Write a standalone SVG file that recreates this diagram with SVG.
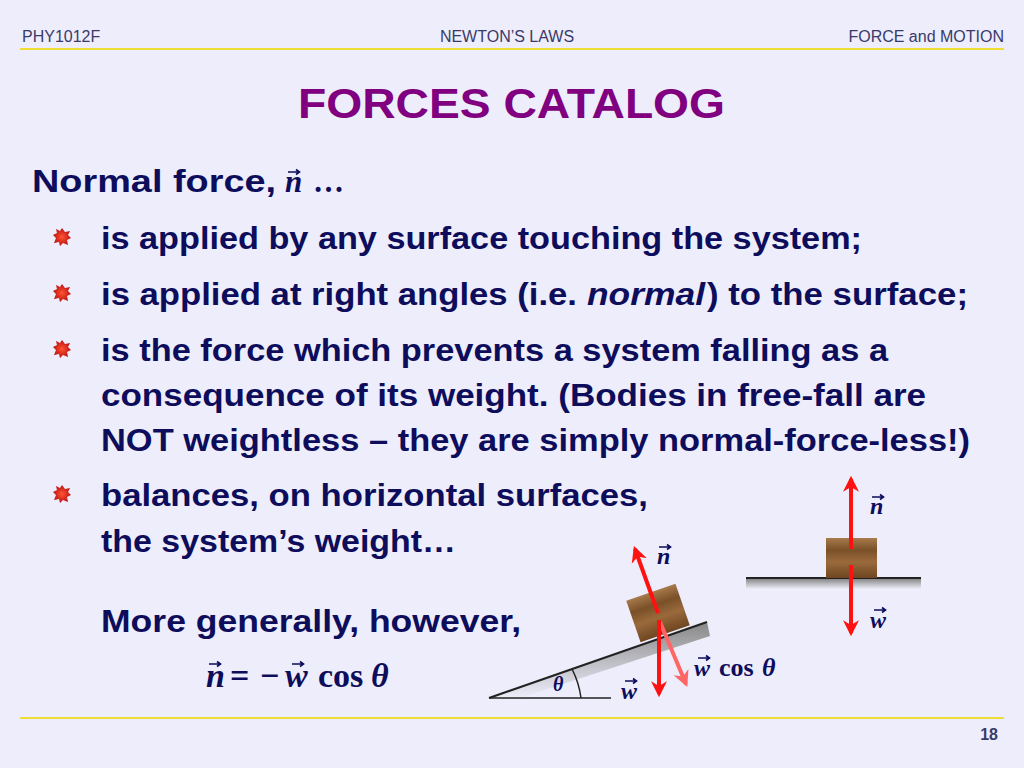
<svg xmlns="http://www.w3.org/2000/svg" width="1024" height="768" viewBox="0 0 1024 768">
<defs>
<style>
.hd{font-family:"Liberation Sans",Arial,sans-serif;font-size:16px;fill:#3a3a6a}
.b{font-family:"Liberation Sans",Arial,sans-serif;font-weight:bold;font-size:32px;fill:#0d0d5c}
.v{font-family:"Liberation Serif","Times New Roman",serif;font-weight:bold;font-style:italic;fill:#0d0d5c}
.r{font-family:"Liberation Serif","Times New Roman",serif;font-weight:bold;fill:#0d0d5c}
.ar{stroke:#ff1111;stroke-width:4;fill:none}
</style>
<marker id="ah" viewBox="0 0 10 10" refX="8" refY="5" markerWidth="4" markerHeight="5" orient="auto" markerUnits="strokeWidth"><path d="M0,0 L10,5 L0,10 L3,5z" fill="#ff1111"/></marker>
<marker id="ahp" viewBox="0 0 10 10" refX="8" refY="5" markerWidth="4" markerHeight="5" orient="auto" markerUnits="strokeWidth"><path d="M0,0 L10,5 L0,10 L3,5z" fill="#ff6666"/></marker>
<radialGradient id="bul"><stop offset="0" stop-color="#ff5533"/><stop offset="1" stop-color="#bb1111"/></radialGradient>
<linearGradient id="wood" x1="0" y1="0" x2="0" y2="1"><stop offset="0" stop-color="#a87a4c"/><stop offset="0.3" stop-color="#7a5028"/><stop offset="0.6" stop-color="#9a6a3c"/><stop offset="1" stop-color="#6e4620"/></linearGradient>
<linearGradient id="shd" x1="0" y1="0" x2="0" y2="1"><stop offset="0" stop-color="#888"/><stop offset="1" stop-color="#eeeefb"/></linearGradient>
<g id="bullet"><path d="M0,-9 L3,-5 L8,-6 L6,-2 L9,1 L5,3 L6,8 L1,6 L-2,9 L-3,5 L-8,6 L-6,1 L-9,-2 L-5,-4 L-6,-8 L-2,-6z" fill="url(#bul)"/></g>
<g id="vec"><path d="M0,0 H11 M8,-2.5 L11.5,0 L8,2.5" stroke="#0d0d5c" stroke-width="1.6" fill="none"/></g>
</defs>
<rect width="1024" height="768" fill="#ededfb"/>
<g id="header">
<text class="hd" x="22" y="42">PHY1012F</text>
<text class="hd" x="507" y="42" text-anchor="middle">NEWTON’S LAWS</text>
<text class="hd" x="1004" y="42" text-anchor="end">FORCE and MOTION</text>
<line x1="20" y1="49" x2="1004" y2="49" stroke="#eedd33" stroke-width="2"/>
<line x1="20" y1="718" x2="1004" y2="718" stroke="#eedd33" stroke-width="2"/>
<text class="hd" x="998" y="740" text-anchor="end" font-weight="bold" font-size="15">18</text>
</g>
<text x="298" y="118" textLength="427" lengthAdjust="spacingAndGlyphs" font-family="Liberation Sans,Arial,sans-serif" font-weight="bold" font-size="42" fill="#800080">FORCES CATALOG</text>
<g id="text">
<text class="b" x="32" y="192" textLength="244" lengthAdjust="spacingAndGlyphs">Normal force,</text>
<text class="v" x="285" y="192" font-size="31">n</text>
<use href="#vec" x="288" y="172"/>
<text class="r" x="313" y="192" font-size="31">…</text>
<use href="#bullet" x="62" y="237"/>
<use href="#bullet" x="62" y="293"/>
<use href="#bullet" x="62" y="349"/>
<use href="#bullet" x="62" y="494"/>
<text class="b" x="101" y="249" textLength="761" lengthAdjust="spacingAndGlyphs">is applied by any surface touching the system;</text>
<text class="b" x="101" y="305" textLength="476" lengthAdjust="spacingAndGlyphs">is applied at right angles (i.e.</text>
<text class="b" x="587" y="305" font-style="italic" font-weight="normal" textLength="118" lengthAdjust="spacingAndGlyphs">normal</text>
<text class="b" x="707" y="305" textLength="261" lengthAdjust="spacingAndGlyphs">) to the surface;</text>
<text class="b" x="101" y="361" textLength="787" lengthAdjust="spacingAndGlyphs">is the force which prevents a system falling as a</text>
<text class="b" x="101" y="406" textLength="825" lengthAdjust="spacingAndGlyphs">consequence of its weight.  (Bodies in free-fall are</text>
<text class="b" x="101" y="451" textLength="869" lengthAdjust="spacingAndGlyphs">NOT weightless – they are simply normal-force-less!)</text>
<text class="b" x="101" y="506" textLength="547" lengthAdjust="spacingAndGlyphs">balances, on horizontal surfaces,</text>
<text class="b" x="101" y="552" textLength="355" lengthAdjust="spacingAndGlyphs">the system’s weight…</text>
<text class="b" x="101" y="632" textLength="420" lengthAdjust="spacingAndGlyphs">More generally, however,</text>
<text class="v" x="206" y="687" font-size="34">n</text>
<text class="r" x="230" y="687" font-size="34">=</text>
<text class="r" x="260" y="687" font-size="34">−</text>
<text class="v" x="285" y="687" font-size="34">w</text>
<text class="r" x="318" y="687" font-size="34">cos</text>
<text class="v" x="371" y="687" font-size="34">θ</text>
<use href="#vec" x="209" y="664"/>
<use href="#vec" x="292" y="664"/>
</g>
<g id="flat">
<rect x="746" y="579" width="175" height="10" fill="url(#shd)"/>
<line x1="746" y1="578" x2="921" y2="578" stroke="#222" stroke-width="2"/>
<rect x="826" y="538" width="51" height="40" fill="url(#wood)"/>
<line class="ar" x1="851" y1="549" x2="851" y2="479" marker-end="url(#ah)"/>
<line class="ar" x1="851" y1="565" x2="851" y2="633" marker-end="url(#ah)"/>
<text class="v" x="870" y="514" font-size="24">n</text><use href="#vec" x="872" y="497"/>
<text class="v" x="870" y="628" font-size="24">w</text><use href="#vec" x="874" y="610"/>
</g>
<g id="incline">
<polygon points="489,698 707,622 710,636 520,698" fill="url(#shd)"/>
<line x1="489" y1="698" x2="707" y2="622" stroke="#222" stroke-width="2"/>
<line x1="489" y1="698" x2="611" y2="698" stroke="#222" stroke-width="1.5"/>
<path d="M572,669 A88,88 0 0 1 581,698" fill="none" stroke="#222" stroke-width="1.5"/>
<text class="v" x="553" y="691" font-size="20">θ</text>
<g transform="translate(658,613) rotate(-19)"><rect x="-26" y="-22" width="52" height="44" fill="url(#wood)"/></g>
<line class="ar" x1="658" y1="613" x2="635" y2="549" marker-end="url(#ah)"/>
<line x1="660" y1="622" x2="686" y2="684" stroke="#ff6666" stroke-width="4" marker-end="url(#ahp)"/>
<line class="ar" x1="659" y1="620" x2="659" y2="694" marker-end="url(#ah)"/>
<text class="v" x="657" y="564" font-size="24">n</text><use href="#vec" x="659" y="547"/>
<text class="v" x="621" y="699" font-size="24">w</text><use href="#vec" x="625" y="681"/>
<text class="v" x="694" y="676" font-size="24">w</text><use href="#vec" x="698" y="658"/>
<text class="r" x="719" y="676" font-size="26">cos</text><text class="v" x="762" y="676" font-size="26">θ</text>
</g>
</svg>
